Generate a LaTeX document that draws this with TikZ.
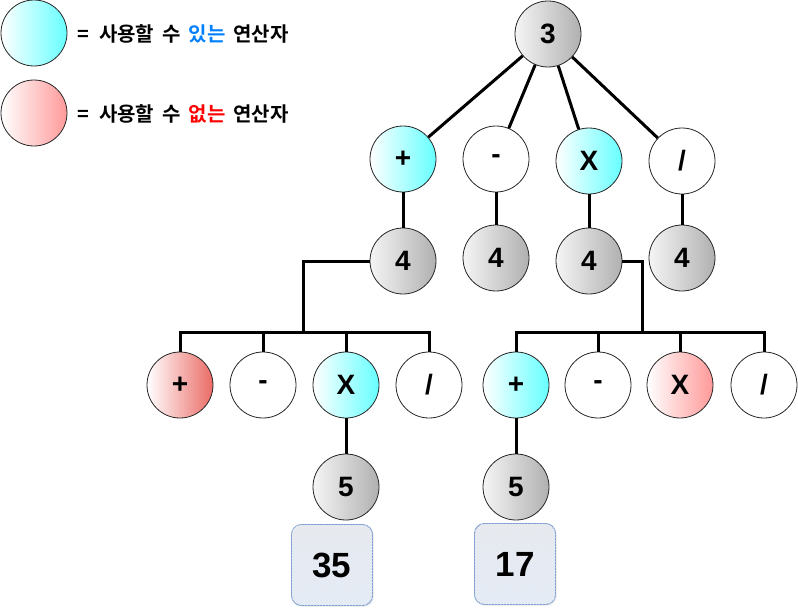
\documentclass[tikz,border=0pt]{standalone}
\usepackage{fontspec}
\setmainfont{Liberation Sans}
\newfontfamily\kr{Noto Sans CJK KR Bold}
\usetikzlibrary{patterns,shadows}
\definecolor{cy}{HTML}{66FFFF}
\definecolor{pk}{HTML}{FF9999}
\definecolor{rd}{HTML}{EA6B66}
\definecolor{gy}{HTML}{B0B0B0}
\definecolor{bx}{HTML}{7E9CCF}
\definecolor{hatchc}{HTML}{DCE4F3}
\definecolor{ubl}{HTML}{007FFF}
\definecolor{ured}{HTML}{FF0000}
\begin{document}
\begin{tikzpicture}[x=1pt,y=-1pt,
  ball/.style={circle, draw=black!85, line width=0.8pt, minimum size=66pt, inner sep=0pt,
    font=\fontsize{28}{30}\selectfont\bfseries},
  grayball/.style={ball, left color=white!96!black, right color=gy},
  cyanball/.style={ball, left color=white, right color=cy},
  pinkball/.style={ball, left color=white, right color=pk},
  redball/.style={ball, left color=white, right color=rd},
  whiteball/.style={ball, fill=white},
  wire/.style={line width=3pt, draw=black},
  legend/.style={anchor=west, inner sep=0pt, font=\kr\fontsize{20}{22}\selectfont},
  resbox/.style={rectangle, rounded corners=10pt, draw=bx, line width=0.9pt,
    minimum width=81pt, minimum height=81pt, inner sep=0pt,
    top color=black!7, bottom color=hatchc!60,
    postaction={pattern=north east lines, pattern color=hatchc},
    drop shadow={shadow xshift=1.5pt, shadow yshift=-1.5pt, opacity=0.12},
    font=\fontsize{35}{37}\selectfont\bfseries}
]
\useasboundingbox (0,0) rectangle (798,613);

% legend
\node[cyanball] (lc) at (34,33) {};
\node[pinkball] (lp) at (34,113) {};
\node[legend] (lt1) at (77,34) {=\hspace{10pt}사용할\hspace{8pt}수\hspace{8pt}{\color{ubl}있는}\hspace{8pt}연산자};
\node[legend] (lt2) at (77,114) {=\hspace{10pt}사용할\hspace{8pt}수\hspace{8pt}{\color{ured}없는}\hspace{8pt}연산자};

% tree nodes
\node[grayball] (root) at (548,34) {3};
\node[cyanball] (a1) at (403,159) {+};
\node[whiteball] (a2) at (496,159) {-};
\node[cyanball] (a3) at (589,161) {X};
\node[whiteball] (a4) at (682,161) {/};

\node[grayball] (b1) at (403,261) {4};
\node[grayball] (b2) at (496,258) {4};
\node[grayball] (b3) at (589,261) {4};
\node[grayball] (b4) at (682,258) {4};

\node[redball] (c1) at (180,385) {+};
\node[whiteball] (c2) at (263,385) {-};
\node[cyanball] (c3) at (346,385) {X};
\node[whiteball] (c4) at (429,385) {/};

\node[cyanball] (d1) at (516,385) {+};
\node[whiteball] (d2) at (598,385) {-};
\node[pinkball] (d3) at (680,385) {X};
\node[whiteball] (d4) at (764,385) {/};

\node[grayball] (e1) at (346,487) {5};
\node[grayball] (e2) at (516,487) {5};

\node[resbox] (f1) at (332,565) {35};
\node[resbox] (f2) at (515,564) {17};

\coordinate (jl) at (303,332);
\coordinate (jr) at (642,332);

% connectors
\draw[wire] (root) -- (a1);
\draw[wire] (root) -- (a2);
\draw[wire] (root) -- (a3);
\draw[wire] (root) -- (a4);
\draw[wire] (a1) -- (b1);
\draw[wire] (a2) -- (b2);
\draw[wire] (a3) -- (b3);
\draw[wire] (a4) -- (b4);

\draw[wire] (b1.west) -| (jl);
\draw[wire] (c1.north) |- (jl) -| (c4.north);
\draw[wire] (c2.north) -- (c2.north |- jl);
\draw[wire] (c3.north) -- (c3.north |- jl);

\draw[wire] (b3.east) -| (jr);
\draw[wire] (d1.north) |- (jr) -| (d4.north);
\draw[wire] (d2.north) -- (d2.north |- jr);
\draw[wire] (d3.north) -- (d3.north |- jr);

\draw[wire] (c3) -- (e1);
\draw[wire] (d1) -- (e2);
\end{tikzpicture}
\end{document}
